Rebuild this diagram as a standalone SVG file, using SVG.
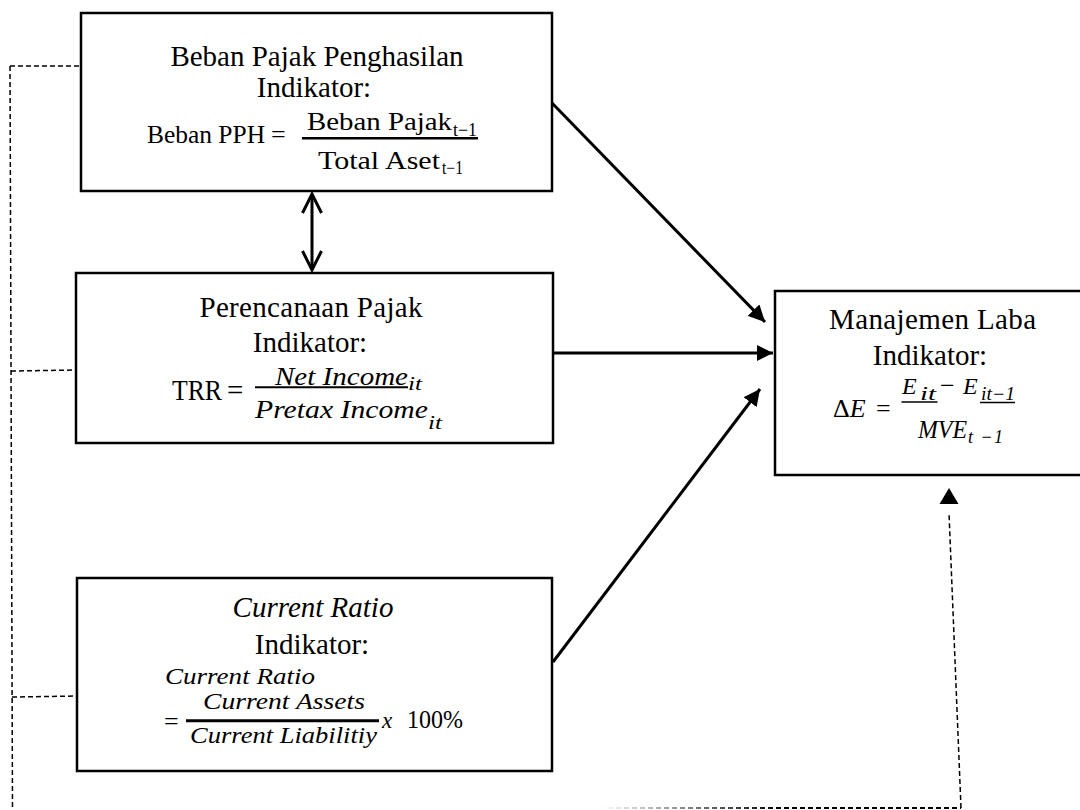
<svg xmlns="http://www.w3.org/2000/svg" width="1080" height="810" viewBox="0 0 1080 810">
  <style>
    .box { fill: #fff; stroke: #000; stroke-width: 2.5; }
    .t { font-family: "Liberation Serif", "Times New Roman", serif; font-size: 29px; fill: #000; }
    .ti { font-family: "Liberation Serif", "Times New Roman", serif; font-size: 29px; font-style: italic; fill: #000; }
    .m { font-family: "Liberation Serif", "Times New Roman", serif; font-size: 26px; fill: #000; }
    .mi { font-family: "Liberation Serif", "Times New Roman", serif; font-size: 26px; font-style: italic; fill: #000; }
    .mi2 { font-family: "Liberation Serif", "Times New Roman", serif; font-size: 24px; font-style: italic; fill: #000; }
    .ms { font-family: "Liberation Serif", "Times New Roman", serif; font-size: 18px; fill: #000; }
    .msi { font-family: "Liberation Serif", "Times New Roman", serif; font-size: 18px; font-style: italic; fill: #000; }
    .ci { font-family: "Liberation Serif", "Times New Roman", serif; font-size: 23px; font-style: italic; fill: #000; }
    .bar { stroke: #000; fill: none; }
    .conn { stroke: #000; stroke-width: 3; fill: none; }
    .dash { stroke: #000; stroke-width: 1.5; fill: none; stroke-dasharray: 5 3; }
  </style>
  <defs>
    <marker id="ah" viewBox="0 0 10 10" refX="10" refY="5" markerWidth="5.5" markerHeight="5.5" orient="auto" markerUnits="strokeWidth">
      <path d="M0,0 L10,5 L0,10 z" fill="#000"/>
    </marker>
    <linearGradient id="fade" gradientUnits="userSpaceOnUse" x1="600" y1="0" x2="780" y2="0">
      <stop offset="0" stop-color="#000" stop-opacity="0"/>
      <stop offset="1" stop-color="#000" stop-opacity="1"/>
    </linearGradient>
  </defs>

  <g id="connectors">
    <!-- double arrow -->
    <line class="conn" x1="312" y1="194" x2="312" y2="270"/>
    <polyline class="conn" points="302.5,213 312,194 321.5,213"/>
    <polyline class="conn" points="302.5,251 312,270 321.5,251"/>
    <!-- arrows to Manajemen Laba -->
    <line class="conn" x1="552" y1="103" x2="765" y2="322" marker-end="url(#ah)"/>
    <line class="conn" x1="553" y1="353" x2="773" y2="353" marker-end="url(#ah)"/>
    <line class="conn" x1="553" y1="662" x2="760" y2="389" marker-end="url(#ah)"/>
    <!-- dashed lines -->
    <line class="dash" x1="10" y1="66" x2="12.5" y2="810"/>
    <line class="dash" x1="10" y1="66" x2="81" y2="66"/>
    <line class="dash" x1="11" y1="371" x2="78" y2="370"/>
    <line class="dash" x1="12" y1="697" x2="77" y2="696"/>
    <line x1="600" y1="808" x2="961" y2="808" stroke="url(#fade)" stroke-width="1.8" stroke-dasharray="5 3"/>
    <line class="dash" x1="961" y1="808" x2="949" y2="513"/>
    <path d="M949,488 L958.5,504 L939.5,504 z" fill="#000"/>
  </g>

  <g id="node-beban-pajak">
    <rect class="box" x="81" y="13" width="471" height="178"/>
    <text class="t" x="317" y="66" text-anchor="middle">Beban Pajak Penghasilan</text>
    <text class="t" x="314" y="97" text-anchor="middle">Indikator:</text>
    <text class="m" x="147" y="143" textLength="118" lengthAdjust="spacingAndGlyphs">Beban PPH</text>
    <text class="m" x="271" y="143">=</text>
    <line class="bar" x1="302" y1="138.3" x2="478" y2="138.3" stroke-width="2.5"/>
    <text class="m" x="307" y="130" textLength="145" lengthAdjust="spacingAndGlyphs">Beban Pajak</text>
    <text class="ms" x="453" y="136" textLength="24" lengthAdjust="spacingAndGlyphs">t−1</text>
    <text class="m" x="318" y="169" textLength="122" lengthAdjust="spacingAndGlyphs">Total Aset</text>
    <text class="ms" x="442" y="174" textLength="21" lengthAdjust="spacingAndGlyphs">t−1</text>
  </g>

  <g id="node-perencanaan-pajak">
    <rect class="box" x="76" y="273" width="477" height="170"/>
    <text class="t" x="311" y="317" text-anchor="middle" textLength="223" lengthAdjust="spacing">Perencanaan Pajak</text>
    <text class="t" x="310" y="352" text-anchor="middle">Indikator:</text>
    <text class="t" x="172" y="400" textLength="50" lengthAdjust="spacingAndGlyphs">TRR</text>
    <text class="t" x="227" y="400">=</text>
    <line class="bar" x1="255" y1="387.3" x2="408" y2="387.3" stroke-width="2"/>
    <text class="mi" x="275" y="385" textLength="133" lengthAdjust="spacingAndGlyphs">Net Income</text>
    <text class="msi" x="408" y="390" textLength="14" lengthAdjust="spacingAndGlyphs">it</text>
    <text class="mi" x="255" y="418" textLength="173" lengthAdjust="spacingAndGlyphs">Pretax Income</text>
    <text class="msi" x="428" y="429" textLength="14" lengthAdjust="spacingAndGlyphs">it</text>
  </g>

  <g id="node-current-ratio">
    <rect class="box" x="77" y="578" width="475" height="193"/>
    <text class="ti" x="313" y="617" text-anchor="middle">Current Ratio</text>
    <text class="t" x="312" y="654" text-anchor="middle">Indikator:</text>
    <text class="ci" x="165" y="684" textLength="150" lengthAdjust="spacingAndGlyphs">Current Ratio</text>
    <text class="ci" x="203" y="709" textLength="162" lengthAdjust="spacingAndGlyphs">Current Assets</text>
    <text class="m" x="164" y="730">=</text>
    <line class="bar" x1="186" y1="720.7" x2="379" y2="720.7" stroke-width="3"/>
    <text class="ci" x="190" y="743" textLength="187" lengthAdjust="spacingAndGlyphs">Current Liabilitiy</text>
    <text class="ci" x="382" y="728">x</text>
    <text class="m" x="407" y="728" textLength="56" lengthAdjust="spacingAndGlyphs">100%</text>
  </g>

  <g id="node-manajemen-laba">
    <rect class="box" x="775" y="291" width="320" height="184"/>
    <text class="t" x="829" y="329" textLength="207" lengthAdjust="spacing">Manajemen Laba</text>
    <text class="t" x="930" y="365" text-anchor="middle">Indikator:</text>
    <text class="m" x="833" y="417">Δ<tspan font-style="italic">E</tspan></text>
    <text class="m" x="876" y="417">=</text>
    <text class="mi2" x="902" y="394">E</text>
    <text class="msi" x="920" y="400" textLength="16" lengthAdjust="spacingAndGlyphs">it</text>
    <text class="m" x="940" y="394">−</text>
    <text class="mi2" x="963" y="394">E</text>
    <text class="msi" x="981" y="400" textLength="34" lengthAdjust="spacingAndGlyphs">it−1</text>
    <line class="bar" x1="901.5" y1="402" x2="937.5" y2="402" stroke-width="1.5"/>
    <line class="bar" x1="980" y1="402.5" x2="1015" y2="402.5" stroke-width="1.5"/>
    <text class="mi" x="918" y="438" textLength="49" lengthAdjust="spacingAndGlyphs">MVE</text>
    <text class="msi" x="968" y="443" textLength="35" lengthAdjust="spacing">t −1</text>
  </g>
</svg>
